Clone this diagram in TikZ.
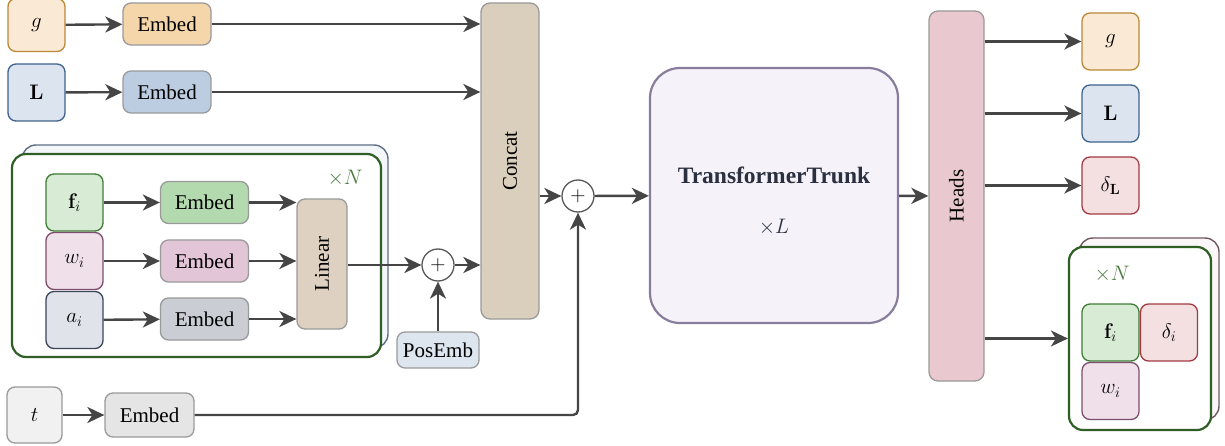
\RequirePackage{fix-cm}
\documentclass[tikz,border=0pt]{standalone}
\usepackage[no-math]{fontspec}
\setmainfont{Liberation Serif}
\usetikzlibrary{arrows.meta,calc}
\definecolor{arrc}{HTML}{454545}
\definecolor{boxgray}{HTML}{9A9A9A}
\definecolor{gfill}{HTML}{FAEAD5}\definecolor{gdraw}{HTML}{BA8836}\definecolor{gemb}{HTML}{F5D6AA}
\definecolor{Lfill}{HTML}{DBE4EF}\definecolor{Ldraw}{HTML}{3F628C}\definecolor{Lemb}{HTML}{BCCDE1}
\definecolor{ffill}{HTML}{D8EBD4}\definecolor{fdraw}{HTML}{3F7B35}\definecolor{femb}{HTML}{B3D9AE}
\definecolor{wfill}{HTML}{EFE0E9}\definecolor{wdraw}{HTML}{7C4E6D}\definecolor{wemb}{HTML}{E2C5D7}
\definecolor{afill}{HTML}{E0E3E9}\definecolor{adraw}{HTML}{3B4659}\definecolor{aemb}{HTML}{CACED4}
\definecolor{dfill}{HTML}{F4DFE1}\definecolor{ddraw}{HTML}{A23A42}
\definecolor{tfill}{HTML}{F1F1F1}\definecolor{temb}{HTML}{E5E5E5}
\definecolor{linfill}{HTML}{DED1C1}\definecolor{catfill}{HTML}{DACEBC}
\definecolor{posfill}{HTML}{DDE5EF}\definecolor{headfill}{HTML}{E9C9CF}
\definecolor{trfill}{HTML}{F5F3F9}\definecolor{trdraw}{HTML}{887D9C}
\definecolor{grpgreen}{HTML}{2F5F24}\definecolor{xngreen}{HTML}{4B7B41}
\definecolor{backblue}{HTML}{5E6D82}\definecolor{backbluefill}{HTML}{F4F7FA}
\definecolor{backmauve}{HTML}{705762}\definecolor{backmauvefill}{HTML}{FBF7F8}
\definecolor{trtext}{HTML}{2B3040}
\tikzset{
  every node/.style={font=\fontsize{21}{25}\selectfont, inner sep=0pt},
  inbox/.style={draw, rounded corners=8pt, minimum width=57pt, minimum height=57pt, line width=1.3pt},
  embbox/.style={draw=boxgray, rounded corners=8pt, minimum width=88pt, minimum height=42pt, line width=1.3pt},
  tallbox/.style={draw=boxgray, rounded corners=9pt, line width=1.3pt},
  plusnode/.style={circle, draw=arrc!90, line width=1.3pt, minimum size=32pt, fill=white},
  arr/.style={draw=arrc, line width=2.4pt, -{Stealth[length=17pt,width=16pt,inset=5pt]}},
  grpfront/.style={draw=grpgreen, line width=2.2pt, fill=white, rounded corners=14pt},
  xn/.style={text=xngreen}
}
\begin{document}
\begin{tikzpicture}[x=1pt,y=-1pt]
\useasboundingbox (0,0) rectangle (1225,446);
% --- left group backgrounds
\node[draw=backblue, fill=backbluefill, line width=1.4pt, rounded corners=14pt, minimum width=366pt, minimum height=203pt] (lback) at (205,246.5) {};
\node[grpfront, minimum width=369pt, minimum height=203pt] (lfront) at (196.5,255.5) {};
\node[xn] (lxn) at (345,178) {$\times N$};
% --- output group backgrounds
\node[draw=backmauve, fill=backmauvefill, line width=1.4pt, rounded corners=14pt, minimum width=140pt, minimum height=182pt] (oback) at (1149,329) {};
\node[grpfront, minimum width=142pt, minimum height=183pt] (ofront) at (1140,338.5) {};
\node[xn] (oxn) at (1112,274) {$\times N$};
% --- inputs
\node[inbox, draw=gdraw, fill=gfill, minimum height=53pt] (gin) at (36.5,25) {$g$};
\node[embbox, fill=gemb] (eg) at (167,24) {Embed};
\node[inbox, draw=Ldraw, fill=Lfill] (Lin) at (36.5,92.5) {$\mathbf{L}$};
\node[embbox, fill=Lemb] (eL) at (167,92) {Embed};
\node[inbox, draw=fdraw, fill=ffill] (fin) at (74.5,202.5) {$\mathbf{f}_i$};
\node[embbox, fill=femb] (ef) at (204.5,202.5) {Embed};
\node[inbox, draw=wdraw, fill=wfill] (win) at (74.5,261) {$w_i$};
\node[embbox, fill=wemb] (ew) at (204.5,261) {Embed};
\node[inbox, draw=adraw, fill=afill] (ain) at (74.5,320) {$a_i$};
\node[embbox, fill=aemb] (ea) at (204.5,319) {Embed};
\node[tallbox, fill=linfill, rounded corners=8pt, minimum width=50pt, minimum height=130pt] (lin) at (322,264) {\rotatebox{90}{Linear}};
\node[inbox, draw=boxgray, fill=tfill, minimum width=55pt, minimum height=56pt] (tin) at (34.5,415) {$t$};
\node[embbox, fill=temb, minimum width=89pt, minimum height=44pt] (et) at (149.5,415) {Embed};
% --- middle
\node[tallbox, fill=catfill, minimum width=58pt, minimum height=316pt] (cat) at (510,161) {\rotatebox{90}{Concat}};
\node[plusnode] (p2) at (438,265) {$+$};
\node[embbox, fill=posfill, minimum width=82pt, minimum height=36pt] (pos) at (438,350) {PosEmb};
\node[plusnode] (p1) at (578,196) {$+$};
\node[draw=trdraw, fill=trfill, line width=2.2pt, rounded corners=30pt, minimum width=248pt, minimum height=255pt] (tr) at (774,195.5) {};
\node[anchor=base, text=trtext, font=\fontsize{23.5}{28}\selectfont\bfseries] (trt) at (774,184) {TransformerTrunk};
\node[anchor=base, text=trtext] (trl) at (774,234) {$\times L$};
\node[tallbox, fill=headfill, minimum width=55pt, minimum height=370pt] (heads) at (956.5,196) {\rotatebox{90}{Heads}};
% --- outputs
\node[inbox, draw=gdraw, fill=gfill] (gout) at (1110.5,41.5) {$g$};
\node[inbox, draw=Ldraw, fill=Lfill] (Lout) at (1110.5,113.5) {$\mathbf{L}$};
\node[inbox, draw=ddraw, fill=dfill] (dLout) at (1110.5,185.5) {$\delta_{\mathbf{L}}$};
\node[inbox, draw=fdraw, fill=ffill] (fout) at (1110.5,332.5) {$\mathbf{f}_i$};
\node[inbox, draw=ddraw, fill=dfill] (dout) at (1169,332.5) {$\delta_i$};
\node[inbox, draw=wdraw, fill=wfill] (wout) at (1110.5,391) {$w_i$};
% --- connectors
\draw[arr] (gin) -- (eg);
\draw[arr] (Lin) -- (eL);
\draw[arr] (eg.east) -- (eg.east -| cat.west);
\draw[arr] (eL.east) -- (eL.east -| cat.west);
\draw[arr] (fin) -- (ef);
\draw[arr] (win) -- (ew);
\draw[arr] (ain) -- (ea);
\draw[arr] (ef.east) -- (ef.east -| lin.west);
\draw[arr] (ew.east) -- (ew.east -| lin.west);
\draw[arr] (ea.east) -- (ea.east -| lin.west);
\draw[arr] (p2 -| lin.east) -- (p2);
\draw[arr] (p2) -- (p2 -| cat.west);
\draw[arr] (pos) -- (p2);
\draw[arr] (p1 -| cat.east) -- (p1);
\draw[arr] (p1) -- (tr);
\draw[arr] (tin) -- (et);
\draw[arr, rounded corners=5pt] (et.east) -| (p1.south);
\draw[arr] (tr) -- (heads);
\draw[arr] (gout -| heads.east) -- (gout);
\draw[arr] (Lout -| heads.east) -- (Lout);
\draw[arr] (dLout -| heads.east) -- (dLout);
\draw[arr] (ofront.west -| heads.east) -- (ofront.west);
\end{tikzpicture}
\end{document}
